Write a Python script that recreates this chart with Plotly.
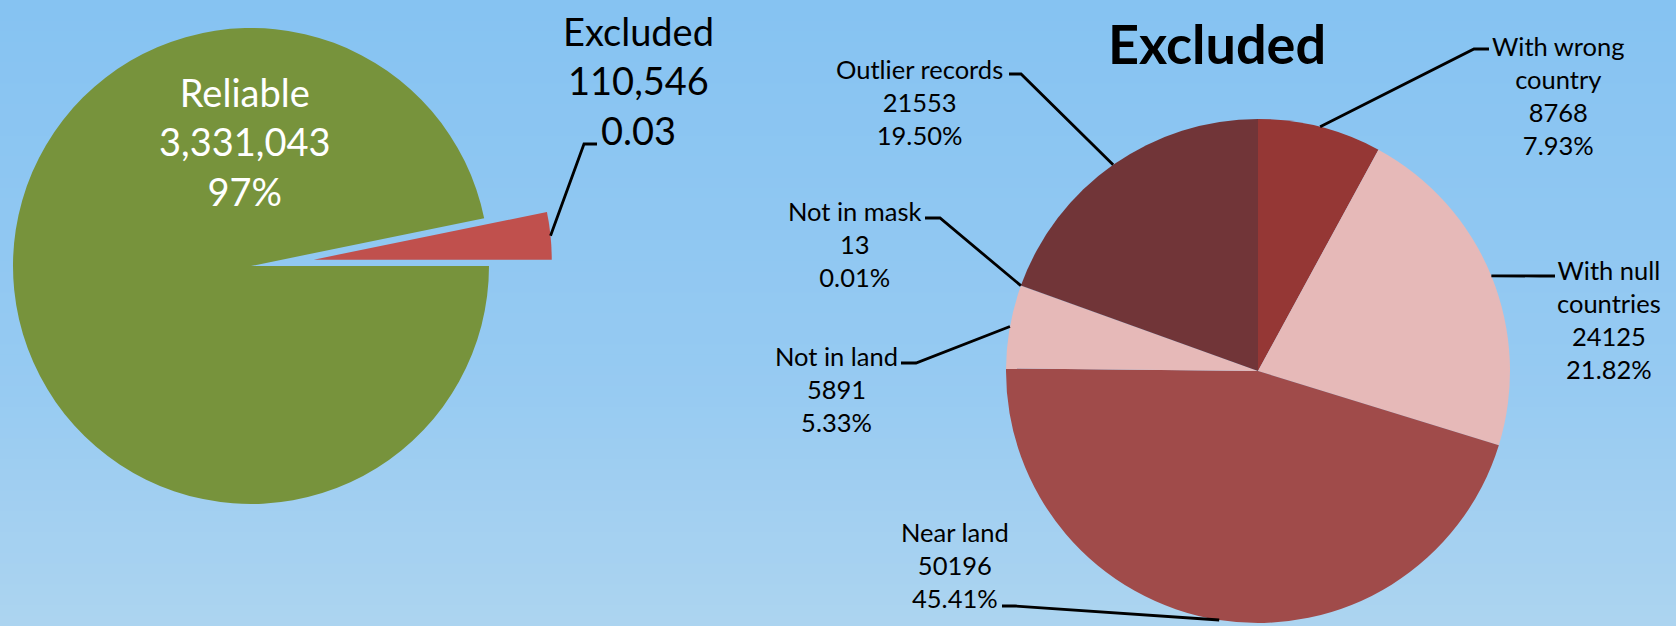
import math
import plotly.graph_objects as go

W, H = 1676, 626

# Overview: reliable vs excluded records
overview_labels = ["Reliable", "Excluded"]
overview_values = [3331043, 110546]
overview_colors = ["#77933C", "#C0504D"]

# Breakdown of excluded records (clockwise from 12 o'clock)
excl_labels = ["With wrong<br>country", "With null<br>countries", "Near land",
               "Not in land", "Not in mask", "Outlier records"]
excl_values = [8768, 24125, 50196, 5891, 13, 21553]
excl_colors = ["#953735", "#E6B9B8", "#A04B4A", "#E6B9B8", "#C9A0A0", "#713538"]

FONT = "Lato, 'Open Sans', sans-serif"


def paper(x, y):
    """Pixel position (origin top-left) -> paper coordinates."""
    return x / W, 1 - y / H


def domain(cx, cy, r):
    return dict(x=[(cx - r) / W, (cx + r) / W], y=[1 - (cy + r) / H, 1 - (cy - r) / H])


# ---- geometry of the two pies (pixels) ----
L_CX, L_CY, L_R = 251, 266, 238
L_PULL = 0.265
R_CX, R_CY, R_R = 1258, 371, 252

ov_total = sum(overview_values)
ex_frac = overview_values[1] / ov_total
theta = math.pi * ex_frac                     # bisector of the excluded wedge (from 3 o'clock, upwards)
dx = L_PULL * L_R * math.cos(theta)
dy = -L_PULL * L_R * math.sin(theta)

common = dict(labels=overview_labels, values=overview_values, sort=False,
              direction="counterclockwise", rotation=90, textinfo="none",
              hoverinfo="label+value+percent", showlegend=False)

fig = go.Figure()

# main pie with the excluded wedge left empty
fig.add_trace(go.Pie(
    marker=dict(colors=[overview_colors[0], "rgba(0,0,0,0)"], line=dict(width=0)),
    domain=domain(L_CX, L_CY, L_R), **common,
))
# the excluded wedge, pulled out along its bisector
fig.add_trace(go.Pie(
    marker=dict(colors=["rgba(0,0,0,0)", overview_colors[1]], line=dict(width=0)),
    domain=domain(L_CX + dx, L_CY + dy, L_R), **common,
))

# breakdown pie
fig.add_trace(go.Pie(
    labels=[l.replace("<br>", " ") for l in excl_labels], values=excl_values, sort=False,
    direction="clockwise", rotation=0,
    marker=dict(colors=excl_colors, line=dict(width=0)),
    textinfo="none", hoverinfo="label+value+percent", showlegend=False,
    domain=domain(R_CX, R_CY, R_R),
))

# ---- background sky gradient ----
shapes = []
top = (134, 195, 242)
mid = (150, 202, 242)
bot = (172, 212, 240)
N = 60
for i in range(N):
    t = i / (N - 1)
    if t < 0.6:
        u = t / 0.6
        c = [round(top[k] + (mid[k] - top[k]) * u) for k in range(3)]
    else:
        u = (t - 0.6) / 0.4
        c = [round(mid[k] + (bot[k] - mid[k]) * u) for k in range(3)]
    shapes.append(dict(type="rect", xref="paper", yref="paper", layer="below",
                       x0=0, x1=1, y0=1 - (i + 1) / N - 0.002, y1=1 - i / N,
                       fillcolor=f"rgb({c[0]},{c[1]},{c[2]})", line=dict(width=0)))


def leader(points):
    pts = [paper(x, y) for x, y in points]
    path = "M " + " L ".join(f"{x:.5f},{y:.5f}" for x, y in pts)
    shapes.append(dict(type="path", xref="paper", yref="paper", path=path,
                       line=dict(color="black", width=2.8)))


annotations = []


def label(text, x, y, size, color="black", bold=False):
    ax, ay = paper(x, y)
    if bold:
        text = f"<b>{text}</b>"
    annotations.append(dict(text=text, x=ax, y=ay, xref="paper", yref="paper",
                            xanchor="center", yanchor="middle", showarrow=False,
                            align="center", font=dict(family=FONT, size=size, color=color)))


# ---- overview labels ----
rel_pct = overview_values[0] / ov_total * 100
label(f"{overview_labels[0]}<br>{overview_values[0]:,}<br>{rel_pct:.0f}%", 245, 142, 38, "white")
label(f"{overview_labels[1]}<br>{overview_values[1]:,}<br>{ex_frac:.2f}", 638, 80, 38)
tip = (L_CX + dx + L_R * math.cos(theta), L_CY + dy - L_R * math.sin(theta))
leader([tip, (584, 144), (597, 144)])

# ---- breakdown labels ----
label("Excluded", 1217, 43, 54, bold=True)

ex_total = sum(excl_values)
label_pos = [(1558, 95), (1609, 319), (955, 565), (836, 389), (855, 244), (920, 102)]
knees = [
    [(1474, 49), (1489, 49)],
    [(1540, 276), (1555, 276)],
    [(1015, 606), (1002, 606)],
    [(916, 363), (901, 363)],
    [(940, 218), (925, 218)],
    [(1021, 74), (1009, 74)],
]
cum = 0
for name, v, (lx, ly), knee in zip(excl_labels, excl_values, label_pos, knees):
    mid_frac = (cum + v / 2) / ex_total
    cum += v
    a = 2 * math.pi * mid_frac
    edge = (R_CX + R_R * math.sin(a), R_CY - R_R * math.cos(a))
    leader([edge] + knee)
    label(f"{name}<br>{v}<br>{v / ex_total * 100:.2f}%", lx, ly, 25.5)

fig.update_layout(
    width=W, height=H,
    margin=dict(l=0, r=0, t=0, b=0),
    paper_bgcolor="rgb(140,198,242)",
    plot_bgcolor="rgba(0,0,0,0)",
    shapes=shapes,
    annotations=annotations,
    font=dict(family=FONT),
)

fig.write_html("out.html")
